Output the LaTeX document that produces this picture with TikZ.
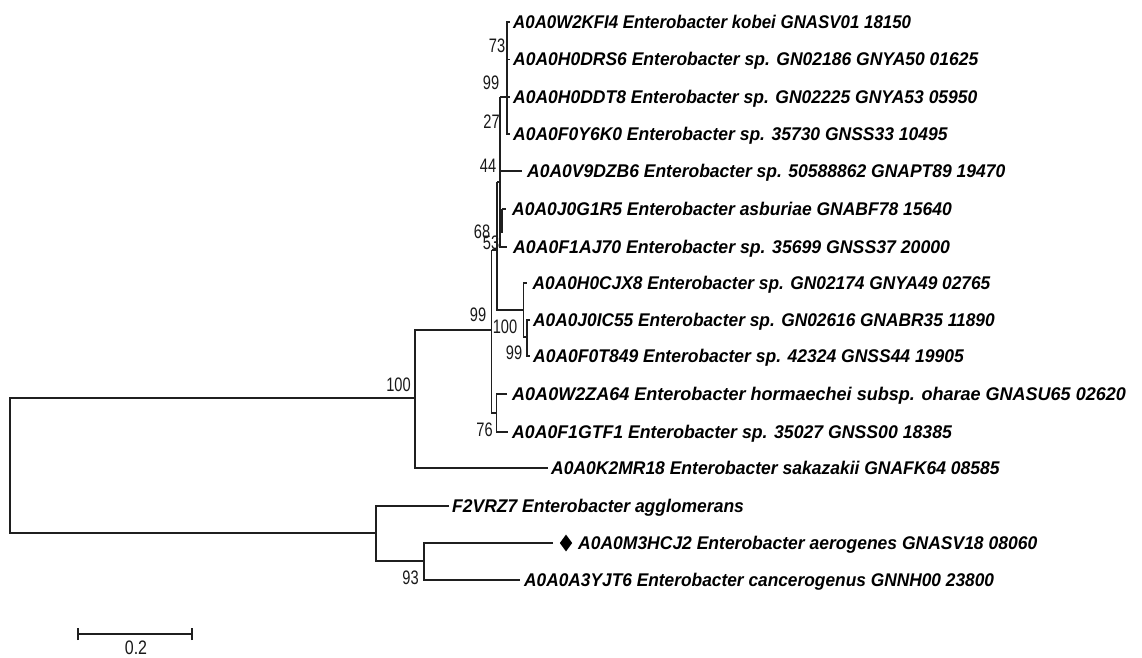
\documentclass[tikz,border=0pt]{standalone}
\usepackage{fontspec}
\setmainfont{Liberation Sans}
\usetikzlibrary{shapes.geometric}
\begin{document}
\begin{tikzpicture}[x=1pt,y=-1pt,
  br/.style={line width=1.25pt, draw=black!88},
  leaf/.style={anchor=west, inner sep=0pt, text height=14.5pt, text depth=2pt,
    font=\bfseries\itshape\fontsize{17.5}{20}\selectfont, text=black},
  boot/.style={anchor=center, inner sep=0pt, font=\fontsize{19.5}{19.5}\selectfont, text=black!90}]
\useasboundingbox[fill=white] (0,0) rectangle (1142,657);
% leaf tips
\coordinate (t1) at (510,22);
\coordinate (t2) at (510,59.5);
\coordinate (t3) at (510,97);
\coordinate (t4) at (510,134);
\coordinate (t5) at (522,171);
\coordinate (t6) at (506,209);
\coordinate (t7) at (507,247);
\coordinate (t8) at (526.5,283);
\coordinate (t9) at (530,320);
\coordinate (t10) at (530,356);
\coordinate (t11) at (507,394);
\coordinate (t12) at (508,432);
\coordinate (t13) at (548,468);
\coordinate (t14) at (449,506);
\coordinate (t15) at (553,543);
\coordinate (t16) at (520,580);
% internal nodes
\coordinate (nA) at (507,97);
\coordinate (nB) at (500,97);
\coordinate (nC) at (497,182);
\coordinate (nD) at (502,209);
\coordinate (nE) at (491.7,250);
\coordinate (nF) at (523.5,310);
\coordinate (nG) at (527,337);
\coordinate (nH) at (496.5,413);
\coordinate (n100) at (415,398);
\coordinate (nL) at (376,533);
\coordinate (n93) at (424,561);
% labels
\node[leaf] (l1) at ([xshift=3pt]t1) {\scalebox{0.965}[1.05]{A0A0W2KFI4 Enterobacter kobei GNASV01 18150}};
\node[leaf] (l2) at ([xshift=3pt]t2) {\scalebox{1}[1.05]{A0A0H0DRS6 Enterobacter sp. GN02186 GNYA50 01625}};
\node[leaf] (l3) at ([xshift=3pt]t3) {\scalebox{1}[1.05]{A0A0H0DDT8 Enterobacter sp. GN02225 GNYA53 05950}};
\node[leaf] (l4) at ([xshift=3pt]t4) {\scalebox{1}[1.05]{A0A0F0Y6K0 Enterobacter sp. 35730 GNSS33 10495}};
\node[leaf] (l5) at ([xshift=5pt]t5) {\scalebox{1}[1.05]{A0A0V9DZB6 Enterobacter sp. 50588862 GNAPT89 19470}};
\node[leaf] (l6) at ([xshift=6pt]t6) {\scalebox{1}[1.05]{A0A0J0G1R5 Enterobacter asburiae GNABF78 15640}};
\node[leaf] (l7) at ([xshift=6pt]t7) {\scalebox{1.01}[1.05]{A0A0F1AJ70 Enterobacter sp. 35699 GNSS37 20000}};
\node[leaf] (l8) at ([xshift=6pt]t8) {\scalebox{0.99}[1.05]{A0A0H0CJX8 Enterobacter sp. GN02174 GNYA49 02765}};
\node[leaf] (l9) at ([xshift=3pt]t9) {\scalebox{0.99}[1.05]{A0A0J0IC55 Enterobacter sp. GN02616 GNABR35 11890}};
\node[leaf] (l10) at ([xshift=3pt]t10) {\scalebox{1}[1.05]{A0A0F0T849 Enterobacter sp. 42324 GNSS44 19905}};
\node[leaf] (l11) at ([xshift=5pt]t11) {\scalebox{1.03}[1.05]{A0A0W2ZA64 Enterobacter hormaechei subsp. oharae GNASU65 02620}};
\node[leaf] (l12) at ([xshift=4pt]t12) {\scalebox{1.01}[1.05]{A0A0F1GTF1 Enterobacter sp. 35027 GNSS00 18385}};
\node[leaf] (l13) at ([xshift=3pt]t13) {\scalebox{1}[1.05]{A0A0K2MR18 Enterobacter sakazakii GNAFK64 08585}};
\node[leaf] (l14) at ([xshift=3pt]t14) {\scalebox{1}[1.05]{F2VRZ7 Enterobacter agglomerans}};
\node[diamond, fill=black, inner sep=0pt, minimum width=12.5pt, minimum height=17pt] (dm) at (566,543) {};
\node[leaf] (l15) at (578,543) {\scalebox{1}[1.05]{A0A0M3HCJ2 Enterobacter aerogenes GNASV18 08060}};
\node[leaf] (l16) at ([xshift=4pt]t16) {\scalebox{0.99}[1.05]{A0A0A3YJT6 Enterobacter cancerogenus GNNH00 23800}};
% bootstrap values
\node[boot] (b73) at (497,46) {\scalebox{0.75}[1]{73}};
\node[boot] (b99a) at (491,83) {\scalebox{0.75}[1]{99}};
\node[boot] (b27) at (491.5,122) {\scalebox{0.75}[1]{27}};
\node[boot] (b44) at (488,166) {\scalebox{0.75}[1]{44}};
\node[boot] (b68) at (482,232) {\scalebox{0.75}[1]{68}};
\node[boot] (b53) at (491,243) {\scalebox{0.75}[1]{53}};
\node[boot] (b99b) at (478,315) {\scalebox{0.75}[1]{99}};
\node[boot] (b100a) at (505,327) {\scalebox{0.75}[1]{100}};
\node[boot] (b99c) at (514,353) {\scalebox{0.75}[1]{99}};
\node[boot] (b100b) at (398.5,385) {\scalebox{0.75}[1]{100}};
\node[boot] (b76) at (484.5,429.5) {\scalebox{0.75}[1]{76}};
\node[boot] (b93) at (410.5,577.5) {\scalebox{0.75}[1]{93}};
% branches: clade of leaves 1-4
\draw[br] (t1) -- (507,22) -- (507,134) -- (t4);
\draw[br] (507,59.5) -- (t2);
\draw[br] (nB) -- (t3);
% node B and relatives
\draw[br] (nB) -- (500,247) -- (t7);
\draw[br] (500,171) -- (t5);
\draw[br] (nD) -- (t6);
\draw[br] (nD) -- (502,232) -- (500,232);
\draw[br] (nC) -- (500,182);
\draw[br] (nC) -- (497,310) -- (nF);
\draw[br] (nE) -- (nE -| nC);
% clade of leaves 8-10
\draw[br] (t8) -- (523.5,283) -- (523.5,337) -- (nG);
\draw[br] (t9) -- (527,320) -- (527,356) -- (t10);
% node 99 and clade 76
\draw[br] (nE) -- (nE |- nH) -- (nH);
\draw[br] (t11) -- (496.5,394) -- (496.5,432) -- (t12);
% node 100
\draw[br] (nE |- 0,330) -- (415,330) -- (415,468) -- (t13);
\draw[br] (n100) -- (10,398) -- (10,533) -- (nL);
% lower clade
\draw[br] (t14) -- (376,506) -- (376,561) -- (n93);
\draw[br] (t15) -- (424,543) -- (424,580) -- (t16);
% scale bar
\coordinate (sb1) at (78,634);
\coordinate (sb2) at (192,634);
\draw[br] (sb1) -- (sb2);
\draw[br] ([yshift=-6pt]sb1) -- ([yshift=6pt]sb1);
\draw[br] ([yshift=-6pt]sb2) -- ([yshift=6pt]sb2);
\node[boot] (sbl) at (136,648) {\scalebox{0.82}[1]{0.2}};
\end{tikzpicture}
\end{document}
